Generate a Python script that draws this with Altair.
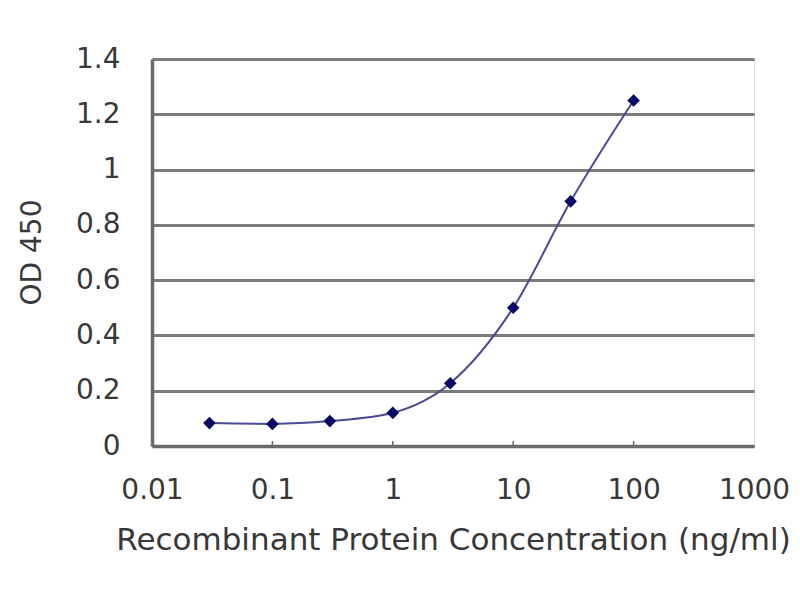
import altair as alt
import pandas as pd

conc = [0.03, 0.1, 0.3, 1, 3, 10, 30, 100]
od = [0.083, 0.080, 0.090, 0.120, 0.227, 0.500, 0.885, 1.250]
x_ticks = [0.01, 0.1, 1, 10, 100, 1000]
y_ticks = [0, 0.2, 0.4, 0.6, 0.8, 1.0, 1.2, 1.4]
inner_ticks = [0.1, 1, 10, 100]

df = pd.DataFrame({"conc": conc, "od": od})
tick_df = pd.DataFrame({"t": inner_ticks, "y0": [0] * len(inner_ticks), "y1": [0.018] * len(inner_ticks)})

FONT = "DejaVu Sans"
TXT = "#383838"
NAVY = "#0a0a66"
LINEC = "#4a4a98"

xs = alt.Scale(type="log", domain=[0.01, 1000])
ys = alt.Scale(domain=[0, 1.4], nice=False)

xaxis = alt.Axis(values=x_ticks, format="~g", grid=False, ticks=False,
                 labelPadding=30, labelFontSize=28, labelFont=FONT, labelColor=TXT,
                 domainColor="#6a6a6a", domainWidth=3.5,
                 title="Recombinant Protein Concentration (ng/ml)",
                 titleFont=FONT, titleFontSize=31, titleFontWeight="normal", titleColor=TXT,
                 titleBaseline="alphabetic", titleY=103, labelFlush=False)
yaxis = alt.Axis(values=y_ticks, format=".1~f", grid=True, gridColor="#7c7c7c", gridWidth=3,
                 ticks=False, labelPadding=32, labelFontSize=28, labelFont=FONT, labelColor=TXT,
                 domainColor="#6a6a6a", domainWidth=3.5,
                 title="OD 450", titleFont=FONT, titleFontSize=28, titleFontWeight="normal",
                 titleColor=TXT, titleX=-106, titleY=193, labelFlush=False)

line = alt.Chart(df).mark_line(color=LINEC, strokeWidth=2, interpolate="monotone").encode(
    x=alt.X("conc:Q", scale=xs, axis=xaxis),
    y=alt.Y("od:Q", scale=ys, axis=yaxis),
)
pts = alt.Chart(df).mark_point(shape="diamond", filled=True, color=NAVY, size=160, opacity=1).encode(
    x=alt.X("conc:Q", scale=xs),
    y=alt.Y("od:Q", scale=ys),
)
ticks = alt.Chart(tick_df).mark_rule(color="#6a6a6a", strokeWidth=1.5).encode(
    x=alt.X("t:Q", scale=xs),
    y=alt.Y("y0:Q", scale=ys),
    y2="y1:Q",
)

chart = alt.layer(ticks, line, pts).properties(
    width=602, height=387,
    autosize=alt.AutoSizeParams(type="none"),
    padding={"left": 144, "top": 51, "right": 38, "bottom": 146},
).configure_view(stroke="#a0a0a0", strokeWidth=2).configure(background="white")

chart.save("out.html", embed_options={"renderer": "svg", "actions": False})
